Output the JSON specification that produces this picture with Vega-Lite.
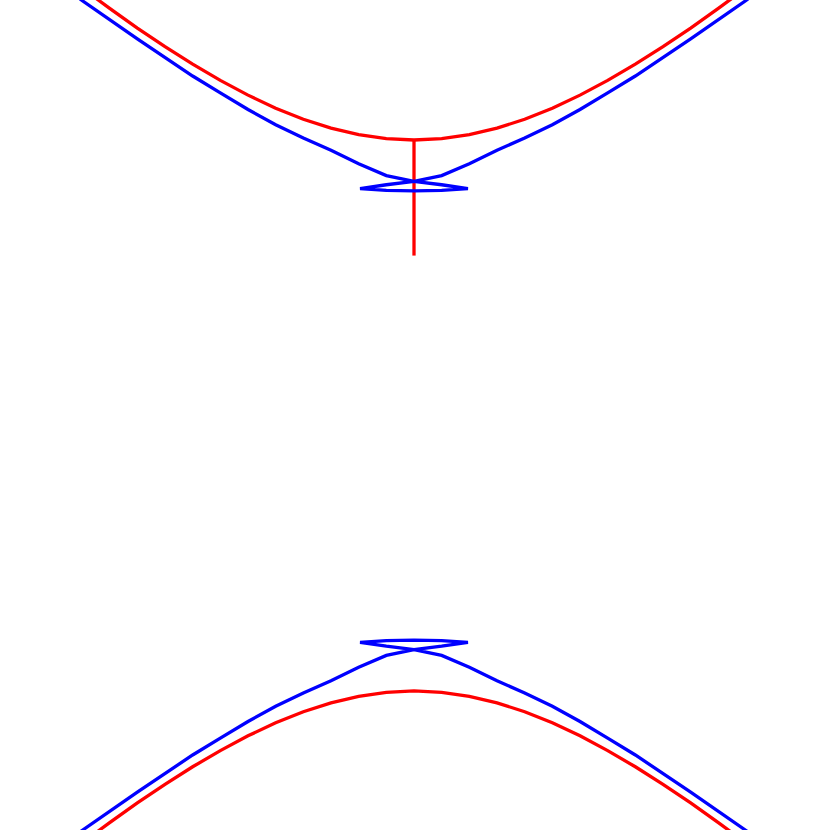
{
  "$schema": "https://vega.github.io/schema/vega-lite/v6.json",
  "width": 830,
  "height": 830,
  "autosize": {"type": "fit", "contains": "padding"},
  "padding": 0,
  "background": "white",
  "config": {"view": {"stroke": null}},
  "datasets": {
    "curves": [
      {"curve": "red_top", "kind": "hyperbola", "i": 0, "x": -1.6, "y": 1.864},
      {"curve": "red_top", "kind": "hyperbola", "i": 1, "x": -1.5, "y": 1.7815},
      {"curve": "red_top", "kind": "hyperbola", "i": 2, "x": -1.4, "y": 1.7008},
      {"curve": "red_top", "kind": "hyperbola", "i": 3, "x": -1.3, "y": 1.622},
      {"curve": "red_top", "kind": "hyperbola", "i": 4, "x": -1.2, "y": 1.5453},
      {"curve": "red_top", "kind": "hyperbola", "i": 5, "x": -1.1, "y": 1.4714},
      {"curve": "red_top", "kind": "hyperbola", "i": 6, "x": -1.0, "y": 1.4005},
      {"curve": "red_top", "kind": "hyperbola", "i": 7, "x": -0.9, "y": 1.3331},
      {"curve": "red_top", "kind": "hyperbola", "i": 8, "x": -0.8, "y": 1.2697},
      {"curve": "red_top", "kind": "hyperbola", "i": 9, "x": -0.7, "y": 1.2111},
      {"curve": "red_top", "kind": "hyperbola", "i": 10, "x": -0.6, "y": 1.1579},
      {"curve": "red_top", "kind": "hyperbola", "i": 11, "x": -0.5, "y": 1.1108},
      {"curve": "red_top", "kind": "hyperbola", "i": 12, "x": -0.4, "y": 1.0708},
      {"curve": "red_top", "kind": "hyperbola", "i": 13, "x": -0.3, "y": 1.0386},
      {"curve": "red_top", "kind": "hyperbola", "i": 14, "x": -0.2, "y": 1.015},
      {"curve": "red_top", "kind": "hyperbola", "i": 15, "x": -0.1, "y": 1.0006},
      {"curve": "red_top", "kind": "hyperbola", "i": 16, "x": 0.0, "y": 0.9957},
      {"curve": "red_top", "kind": "hyperbola", "i": 17, "x": 0.1, "y": 1.0006},
      {"curve": "red_top", "kind": "hyperbola", "i": 18, "x": 0.2, "y": 1.015},
      {"curve": "red_top", "kind": "hyperbola", "i": 19, "x": 0.3, "y": 1.0386},
      {"curve": "red_top", "kind": "hyperbola", "i": 20, "x": 0.4, "y": 1.0708},
      {"curve": "red_top", "kind": "hyperbola", "i": 21, "x": 0.5, "y": 1.1108},
      {"curve": "red_top", "kind": "hyperbola", "i": 22, "x": 0.6, "y": 1.1579},
      {"curve": "red_top", "kind": "hyperbola", "i": 23, "x": 0.7, "y": 1.2111},
      {"curve": "red_top", "kind": "hyperbola", "i": 24, "x": 0.8, "y": 1.2697},
      {"curve": "red_top", "kind": "hyperbola", "i": 25, "x": 0.9, "y": 1.3331},
      {"curve": "red_top", "kind": "hyperbola", "i": 26, "x": 1.0, "y": 1.4005},
      {"curve": "red_top", "kind": "hyperbola", "i": 27, "x": 1.1, "y": 1.4714},
      {"curve": "red_top", "kind": "hyperbola", "i": 28, "x": 1.2, "y": 1.5453},
      {"curve": "red_top", "kind": "hyperbola", "i": 29, "x": 1.3, "y": 1.622},
      {"curve": "red_top", "kind": "hyperbola", "i": 30, "x": 1.4, "y": 1.7008},
      {"curve": "red_top", "kind": "hyperbola", "i": 31, "x": 1.5, "y": 1.7815},
      {"curve": "red_top", "kind": "hyperbola", "i": 32, "x": 1.6, "y": 1.864},

      {"curve": "red_bottom", "kind": "hyperbola", "i": 0, "x": -1.6, "y": -1.864},
      {"curve": "red_bottom", "kind": "hyperbola", "i": 1, "x": -1.5, "y": -1.7815},
      {"curve": "red_bottom", "kind": "hyperbola", "i": 2, "x": -1.4, "y": -1.7008},
      {"curve": "red_bottom", "kind": "hyperbola", "i": 3, "x": -1.3, "y": -1.622},
      {"curve": "red_bottom", "kind": "hyperbola", "i": 4, "x": -1.2, "y": -1.5453},
      {"curve": "red_bottom", "kind": "hyperbola", "i": 5, "x": -1.1, "y": -1.4714},
      {"curve": "red_bottom", "kind": "hyperbola", "i": 6, "x": -1.0, "y": -1.4005},
      {"curve": "red_bottom", "kind": "hyperbola", "i": 7, "x": -0.9, "y": -1.3331},
      {"curve": "red_bottom", "kind": "hyperbola", "i": 8, "x": -0.8, "y": -1.2697},
      {"curve": "red_bottom", "kind": "hyperbola", "i": 9, "x": -0.7, "y": -1.2111},
      {"curve": "red_bottom", "kind": "hyperbola", "i": 10, "x": -0.6, "y": -1.1579},
      {"curve": "red_bottom", "kind": "hyperbola", "i": 11, "x": -0.5, "y": -1.1108},
      {"curve": "red_bottom", "kind": "hyperbola", "i": 12, "x": -0.4, "y": -1.0708},
      {"curve": "red_bottom", "kind": "hyperbola", "i": 13, "x": -0.3, "y": -1.0386},
      {"curve": "red_bottom", "kind": "hyperbola", "i": 14, "x": -0.2, "y": -1.015},
      {"curve": "red_bottom", "kind": "hyperbola", "i": 15, "x": -0.1, "y": -1.0006},
      {"curve": "red_bottom", "kind": "hyperbola", "i": 16, "x": 0.0, "y": -0.9957},
      {"curve": "red_bottom", "kind": "hyperbola", "i": 17, "x": 0.1, "y": -1.0006},
      {"curve": "red_bottom", "kind": "hyperbola", "i": 18, "x": 0.2, "y": -1.015},
      {"curve": "red_bottom", "kind": "hyperbola", "i": 19, "x": 0.3, "y": -1.0386},
      {"curve": "red_bottom", "kind": "hyperbola", "i": 20, "x": 0.4, "y": -1.0708},
      {"curve": "red_bottom", "kind": "hyperbola", "i": 21, "x": 0.5, "y": -1.1108},
      {"curve": "red_bottom", "kind": "hyperbola", "i": 22, "x": 0.6, "y": -1.1579},
      {"curve": "red_bottom", "kind": "hyperbola", "i": 23, "x": 0.7, "y": -1.2111},
      {"curve": "red_bottom", "kind": "hyperbola", "i": 24, "x": 0.8, "y": -1.2697},
      {"curve": "red_bottom", "kind": "hyperbola", "i": 25, "x": 0.9, "y": -1.3331},
      {"curve": "red_bottom", "kind": "hyperbola", "i": 26, "x": 1.0, "y": -1.4005},
      {"curve": "red_bottom", "kind": "hyperbola", "i": 27, "x": 1.1, "y": -1.4714},
      {"curve": "red_bottom", "kind": "hyperbola", "i": 28, "x": 1.2, "y": -1.5453},
      {"curve": "red_bottom", "kind": "hyperbola", "i": 29, "x": 1.3, "y": -1.622},
      {"curve": "red_bottom", "kind": "hyperbola", "i": 30, "x": 1.4, "y": -1.7008},
      {"curve": "red_bottom", "kind": "hyperbola", "i": 31, "x": 1.5, "y": -1.7815},
      {"curve": "red_bottom", "kind": "hyperbola", "i": 32, "x": 1.6, "y": -1.864},

      {"curve": "red_normal", "kind": "hyperbola", "i": 0, "x": 0.0, "y": 0.9957},
      {"curve": "red_normal", "kind": "hyperbola", "i": 1, "x": 0.0, "y": 0.578},

      {"curve": "blue_top", "kind": "offset", "i": 0, "x": -1.6, "y": 1.82},
      {"curve": "blue_top", "kind": "offset", "i": 1, "x": -1.4, "y": 1.657},
      {"curve": "blue_top", "kind": "offset", "i": 2, "x": -1.2, "y": 1.5},
      {"curve": "blue_top", "kind": "offset", "i": 3, "x": -1.0, "y": 1.361},
      {"curve": "blue_top", "kind": "offset", "i": 4, "x": -0.8, "y": 1.227},
      {"curve": "blue_top", "kind": "offset", "i": 5, "x": -0.7, "y": 1.166},
      {"curve": "blue_top", "kind": "offset", "i": 6, "x": -0.6, "y": 1.106},
      {"curve": "blue_top", "kind": "offset", "i": 7, "x": -0.5, "y": 1.051},
      {"curve": "blue_top", "kind": "offset", "i": 8, "x": -0.4, "y": 1.003},
      {"curve": "blue_top", "kind": "offset", "i": 9, "x": -0.3, "y": 0.959},
      {"curve": "blue_top", "kind": "offset", "i": 10, "x": -0.2, "y": 0.91},
      {"curve": "blue_top", "kind": "offset", "i": 11, "x": -0.1, "y": 0.867},
      {"curve": "blue_top", "kind": "offset", "i": 12, "x": 0.0, "y": 0.846},
      {"curve": "blue_top", "kind": "offset", "i": 13, "x": 0.1, "y": 0.834},
      {"curve": "blue_top", "kind": "offset", "i": 14, "x": 0.195, "y": 0.82},
      {"curve": "blue_top", "kind": "offset", "i": 15, "x": 0.1, "y": 0.814},
      {"curve": "blue_top", "kind": "offset", "i": 16, "x": 0.0, "y": 0.812},
      {"curve": "blue_top", "kind": "offset", "i": 17, "x": -0.1, "y": 0.814},
      {"curve": "blue_top", "kind": "offset", "i": 18, "x": -0.195, "y": 0.82},
      {"curve": "blue_top", "kind": "offset", "i": 19, "x": -0.1, "y": 0.834},
      {"curve": "blue_top", "kind": "offset", "i": 20, "x": 0.0, "y": 0.846},
      {"curve": "blue_top", "kind": "offset", "i": 21, "x": 0.1, "y": 0.867},
      {"curve": "blue_top", "kind": "offset", "i": 22, "x": 0.2, "y": 0.91},
      {"curve": "blue_top", "kind": "offset", "i": 23, "x": 0.3, "y": 0.959},
      {"curve": "blue_top", "kind": "offset", "i": 24, "x": 0.4, "y": 1.003},
      {"curve": "blue_top", "kind": "offset", "i": 25, "x": 0.5, "y": 1.051},
      {"curve": "blue_top", "kind": "offset", "i": 26, "x": 0.6, "y": 1.106},
      {"curve": "blue_top", "kind": "offset", "i": 27, "x": 0.7, "y": 1.166},
      {"curve": "blue_top", "kind": "offset", "i": 28, "x": 0.8, "y": 1.227},
      {"curve": "blue_top", "kind": "offset", "i": 29, "x": 1.0, "y": 1.361},
      {"curve": "blue_top", "kind": "offset", "i": 30, "x": 1.2, "y": 1.5},
      {"curve": "blue_top", "kind": "offset", "i": 31, "x": 1.4, "y": 1.657},
      {"curve": "blue_top", "kind": "offset", "i": 32, "x": 1.6, "y": 1.82},

      {"curve": "blue_bottom", "kind": "offset", "i": 0, "x": -1.6, "y": -1.82},
      {"curve": "blue_bottom", "kind": "offset", "i": 1, "x": -1.4, "y": -1.657},
      {"curve": "blue_bottom", "kind": "offset", "i": 2, "x": -1.2, "y": -1.5},
      {"curve": "blue_bottom", "kind": "offset", "i": 3, "x": -1.0, "y": -1.361},
      {"curve": "blue_bottom", "kind": "offset", "i": 4, "x": -0.8, "y": -1.227},
      {"curve": "blue_bottom", "kind": "offset", "i": 5, "x": -0.7, "y": -1.166},
      {"curve": "blue_bottom", "kind": "offset", "i": 6, "x": -0.6, "y": -1.106},
      {"curve": "blue_bottom", "kind": "offset", "i": 7, "x": -0.5, "y": -1.051},
      {"curve": "blue_bottom", "kind": "offset", "i": 8, "x": -0.4, "y": -1.003},
      {"curve": "blue_bottom", "kind": "offset", "i": 9, "x": -0.3, "y": -0.959},
      {"curve": "blue_bottom", "kind": "offset", "i": 10, "x": -0.2, "y": -0.91},
      {"curve": "blue_bottom", "kind": "offset", "i": 11, "x": -0.1, "y": -0.867},
      {"curve": "blue_bottom", "kind": "offset", "i": 12, "x": 0.0, "y": -0.846},
      {"curve": "blue_bottom", "kind": "offset", "i": 13, "x": 0.1, "y": -0.834},
      {"curve": "blue_bottom", "kind": "offset", "i": 14, "x": 0.195, "y": -0.82},
      {"curve": "blue_bottom", "kind": "offset", "i": 15, "x": 0.1, "y": -0.814},
      {"curve": "blue_bottom", "kind": "offset", "i": 16, "x": 0.0, "y": -0.812},
      {"curve": "blue_bottom", "kind": "offset", "i": 17, "x": -0.1, "y": -0.814},
      {"curve": "blue_bottom", "kind": "offset", "i": 18, "x": -0.195, "y": -0.82},
      {"curve": "blue_bottom", "kind": "offset", "i": 19, "x": -0.1, "y": -0.834},
      {"curve": "blue_bottom", "kind": "offset", "i": 20, "x": 0.0, "y": -0.846},
      {"curve": "blue_bottom", "kind": "offset", "i": 21, "x": 0.1, "y": -0.867},
      {"curve": "blue_bottom", "kind": "offset", "i": 22, "x": 0.2, "y": -0.91},
      {"curve": "blue_bottom", "kind": "offset", "i": 23, "x": 0.3, "y": -0.959},
      {"curve": "blue_bottom", "kind": "offset", "i": 24, "x": 0.4, "y": -1.003},
      {"curve": "blue_bottom", "kind": "offset", "i": 25, "x": 0.5, "y": -1.051},
      {"curve": "blue_bottom", "kind": "offset", "i": 26, "x": 0.6, "y": -1.106},
      {"curve": "blue_bottom", "kind": "offset", "i": 27, "x": 0.7, "y": -1.166},
      {"curve": "blue_bottom", "kind": "offset", "i": 28, "x": 0.8, "y": -1.227},
      {"curve": "blue_bottom", "kind": "offset", "i": 29, "x": 1.0, "y": -1.361},
      {"curve": "blue_bottom", "kind": "offset", "i": 30, "x": 1.2, "y": -1.5},
      {"curve": "blue_bottom", "kind": "offset", "i": 31, "x": 1.4, "y": -1.657},
      {"curve": "blue_bottom", "kind": "offset", "i": 32, "x": 1.6, "y": -1.82}
    ]
  },
  "data": {"name": "curves"},
  "mark": {"type": "line", "strokeWidth": 3.3, "clip": true, "strokeJoin": "miter", "strokeCap": "butt"},
  "encoding": {
    "x": {"field": "x", "type": "quantitative", "scale": {"domain": [-1.4964, 1.5036], "nice": false, "zero": false}, "axis": null},
    "y": {"field": "y", "type": "quantitative", "scale": {"domain": [-1.4982, 1.5018], "nice": false, "zero": false}, "axis": null},
    "color": {"field": "kind", "type": "nominal", "scale": {"domain": ["hyperbola", "offset"], "range": ["#ff0000", "#0000ff"]}, "legend": null},
    "detail": {"field": "curve", "type": "nominal"},
    "order": {"field": "i", "type": "quantitative"}
  }
}
